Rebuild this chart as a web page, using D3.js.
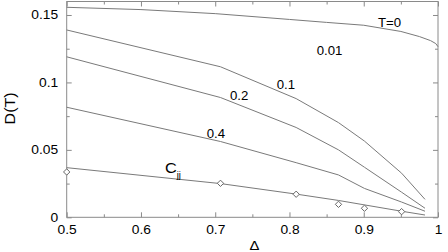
<!DOCTYPE html>
<html><head><meta charset="utf-8">
<script src="https://cdn.jsdelivr.net/npm/d3@7"></script>
<style>
body{margin:0;background:#fff}
svg{display:block}
text{font-family:"Liberation Sans",Arial,Helvetica,sans-serif;fill:#000}
</style>
</head><body>
<svg id="chart" width="448" height="252"></svg>
<script>
// ---------- data ----------
const deltaT0   = [0.5, 0.6, 0.7, 0.8, 0.85, 0.9, 0.95, 0.975, 0.99, 0.997, 1.0];
const valuesT0  = [0.1557, 0.1540, 0.1510, 0.1467, 0.1445, 0.1424, 0.1378, 0.1340, 0.1310, 0.1288, 0.1265];
const deltaGrid = [0.5, 0.7071, 0.809, 0.866, 0.901, 0.951, 0.9825];
const valuesT01 = [0.1389, 0.1116, 0.0880, 0.0702, 0.0565, 0.0327, 0.0133];
const valuesT02 = [0.1190, 0.0888, 0.0666, 0.0500, 0.0371, 0.0186, 0.0067];
const valuesT04 = [0.0816, 0.0562, 0.0405, 0.0314, 0.0214, 0.0113, 0.0045];
const valuesCjjLine = [0.0368, 0.0250, 0.0172, 0.0125, 0.0092, 0.0045, 0.0017];
const deltaPoints = [0.5, 0.7071, 0.809, 0.866, 0.901, 0.951];
const valuesCjjPoints = [0.0336, 0.0252, 0.0171, 0.0096, 0.0067, 0.0042];
const xMajorTicks = [0.5, 0.6, 0.7, 0.8, 0.9, 1.0];
const xTickLabels = ["0.5", "0.6", "0.7", "0.8", "0.9", "1"];
const xMinorTicks = [0.55, 0.65, 0.75, 0.85, 0.95];
const yMajorTicks = [0, 0.05, 0.1, 0.15];
const yTickLabels = ["0", "0.05", "0.1", "0.15"];
const yMinorTicks = [0.025, 0.075, 0.125];
const curveLabels = ["T=0", "0.01", "0.1", "0.2", "0.4"];
const xTitle = "Δ";
const yTitle = "D(T)";

// ---------- layout ----------
const L = 66.7, R = 438, T = 1.5, B = 217.3;
const labelPos = [[0.9192, 0.1413], [0.8367, 0.1207], [0.7828, 0.0954], [0.7199, 0.0868], [0.6885, 0.0591]];
const cjjPos = [0.6324, 0.0326];
const axisColor = "#8a8a8a", lineColor = "#7a7a7a";

const svg = d3.select("#chart");
const x = d3.scaleLinear().domain([0.5, 1]).range([L, R]);
const y = d3.scaleLinear().domain([0, 0.16]).range([B, T]);

function styleAxis(g) {
  g.attr("font-family", null).attr("font-size", null);
  g.select(".domain").remove();
  g.selectAll(".tick line").attr("stroke", axisColor);
  g.selectAll("text").attr("fill", "#000").style("font-size", "12px");
}

// bottom
const gb = svg.append("g").attr("transform", `translate(0,${B})`)
  .call(d3.axisBottom(x).tickValues(xMajorTicks).tickSizeInner(-5).tickSizeOuter(0).tickPadding(8)
    .tickFormat((d, i) => xTickLabels[i]));
styleAxis(gb);
gb.selectAll("text").attr("transform", "scale(1.15,1)");
svg.append("g").attr("transform", `translate(0,${B})`)
  .call(d3.axisBottom(x).tickValues(xMinorTicks).tickSizeInner(-3).tickSizeOuter(0).tickFormat(""))
  .call(styleAxis);
// top
svg.append("g").attr("transform", `translate(0,${T})`)
  .call(d3.axisTop(x).tickValues(xMajorTicks).tickSizeInner(-5).tickSizeOuter(0).tickFormat(""))
  .call(styleAxis);
svg.append("g").attr("transform", `translate(0,${T})`)
  .call(d3.axisTop(x).tickValues(xMinorTicks).tickSizeInner(-3).tickSizeOuter(0).tickFormat(""))
  .call(styleAxis);
// left
const gl = svg.append("g").attr("transform", `translate(${L},0)`)
  .call(d3.axisLeft(y).tickValues(yMajorTicks).tickSizeInner(-5).tickSizeOuter(0).tickPadding(8.5)
    .tickFormat((d, i) => yTickLabels[i]));
styleAxis(gl);
gl.selectAll("text").attr("x", -8.5 / 1.15).attr("transform", "scale(1.15,1)");
svg.append("g").attr("transform", `translate(${L},0)`)
  .call(d3.axisLeft(y).tickValues(yMinorTicks).tickSizeInner(-3).tickSizeOuter(0).tickFormat(""))
  .call(styleAxis);
// right
svg.append("g").attr("transform", `translate(${R},0)`)
  .call(d3.axisRight(y).tickValues(yMajorTicks).tickSizeInner(-5).tickSizeOuter(0).tickFormat(""))
  .call(styleAxis);
svg.append("g").attr("transform", `translate(${R},0)`)
  .call(d3.axisRight(y).tickValues(yMinorTicks).tickSizeInner(-3).tickSizeOuter(0).tickFormat(""))
  .call(styleAxis);

// frame
svg.append("rect").attr("x", L).attr("y", T).attr("width", R - L).attr("height", B - T)
  .attr("fill", "none").attr("stroke", axisColor).attr("stroke-width", 1);

// curves
const line = d3.line().x(d => x(d[0])).y(d => y(d[1]));
const series = [
  d3.zip(deltaT0, valuesT0),
  d3.zip(deltaGrid, valuesT01),
  d3.zip(deltaGrid, valuesT02),
  d3.zip(deltaGrid, valuesT04),
  d3.zip(deltaGrid, valuesCjjLine)
];
svg.append("g").selectAll("path").data(series).join("path")
  .attr("d", line).attr("fill", "none").attr("stroke", lineColor).attr("stroke-width", 1);

// diamonds
const diamond = { draw(ctx, size) { const r = Math.sqrt(size) / 2;
  ctx.moveTo(0, -r); ctx.lineTo(r, 0); ctx.lineTo(0, r); ctx.lineTo(-r, 0); ctx.closePath(); } };
svg.append("g").selectAll("path").data(d3.zip(deltaPoints, valuesCjjPoints)).join("path")
  .attr("transform", d => `translate(${x(d[0])},${y(d[1])})`)
  .attr("d", d3.symbol().type(diamond).size(40))
  .attr("fill", "#fff").attr("stroke", "#666").attr("stroke-width", 1);

// curve labels
svg.append("g").selectAll("text").data(curveLabels).join("text")
  .attr("transform", (d, i) => `translate(${x(labelPos[i][0])},${y(labelPos[i][1])}) scale(1.1,1)`)
  .style("font-size", "12px").text(d => d);
const cj = svg.append("text")
  .attr("transform", `translate(${x(cjjPos[0])},${y(cjjPos[1])}) scale(1.05,1)`)
  .style("font-size", "15.5px");
cj.append("tspan").attr("fill", "#000").text("C");
cj.append("tspan").attr("fill", "#000").attr("dy", 4.5).style("font-size", "9px").text("jj");

// axis titles
svg.append("text").attr("transform", `translate(${(L + R) / 2 + 2},249.5) scale(1.1,1)`)
  .attr("text-anchor", "middle").style("font-size", "13.5px").text(xTitle);
svg.append("text").attr("transform", `translate(15,${(T + B) / 2 - 1}) rotate(-90) scale(1.15,1)`)
  .attr("text-anchor", "middle").style("font-size", "14px").text(yTitle);
</script>
</body></html>
